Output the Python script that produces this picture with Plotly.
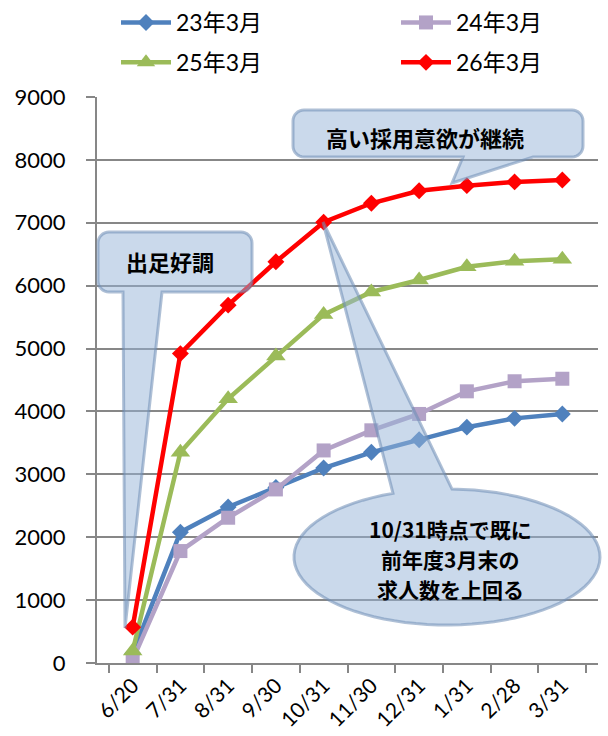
import math
import plotly.graph_objects as go

# ---------------- data ----------------
categories = ["6/20", "7/31", "8/31", "9/30", "10/31", "11/30", "12/31", "1/31", "2/28", "3/31"]
s23 = [150, 2080, 2480, 2790, 3100, 3350, 3550, 3750, 3890, 3960]
s24 = [50, 1780, 2310, 2760, 3380, 3700, 3960, 4320, 4480, 4520]
s25 = [190, 3350, 4200, 4880, 5540, 5900, 6090, 6300, 6390, 6420]
s26 = [570, 4920, 5690, 6380, 7010, 7310, 7510, 7590, 7650, 7680]
series_names = ["23年3月", "24年3月", "25年3月", "26年3月"]
y_ticks = [0, 1000, 2000, 3000, 4000, 5000, 6000, 7000, 8000, 9000]

# ---------------- layout geometry (pixels) ----------------
W, H = 608, 736
ML, MR, MT, MB = 97, 10, 97, 73
PW, PH = W - ML - MR, H - MT - MB


def px(x, y):
    """pixel (from top-left of figure) -> paper coords"""
    return (x - ML) / PW, (H - MB - y) / PH


def path_from_pts(pts):
    s = []
    for i, (x, y) in enumerate(pts):
        xp, yp = px(x, y)
        s.append(("M" if i == 0 else "L") + f"{xp:.5f},{yp:.5f}")
    return " ".join(s) + " Z"


def rounded_callout(x0, y0, x1, y1, r, tail):
    pts = []

    def arc(cx, cy, a0, a1, n=8):
        for k in range(n + 1):
            a = math.radians(a0 + (a1 - a0) * k / n)
            pts.append((cx + r * math.cos(a), cy - r * math.sin(a)))

    xa, xb, tx, ty = tail
    arc(x0 + r, y0 + r, 180, 90)
    arc(x1 - r, y0 + r, 90, 0)
    arc(x1 - r, y1 - r, 0, -90)
    right, left = max(xa, xb), min(xa, xb)
    pts.append((right, y1))
    pts.append((tx, ty))
    pts.append((left, y1))
    arc(x0 + r, y1 - r, -90, -180)
    return pts


def ellipse_callout(cx, cy, rx, ry, xl, xr, tx, ty, n=80):
    tl = math.degrees(math.acos((xl - cx) / rx))
    tr = math.degrees(math.acos((xr - cx) / rx)) + 360
    pts = [(tx, ty)]
    for k in range(n + 1):
        a = math.radians(tl + (tr - tl) * k / n)
        pts.append((cx + rx * math.cos(a), cy - ry * math.sin(a)))
    return pts


# ---------------- figure ----------------
colors = ["#4F81BD", "#B3A2C7", "#9BBB59", "#FF0000"]
symbols = ["diamond", "square", "triangle-up", "diamond"]
sizes = [13, 14, 17, 13]
legends = ["legend", "legend2", "legend", "legend2"]
data = [s23, s24, s25, s26]

fig = go.Figure()
for name, vals, c, sym, sz, lg in zip(series_names, data, colors, symbols, sizes, legends):
    fig.add_trace(go.Scatter(
        x=categories, y=vals, name=name, mode="lines+markers",
        line=dict(color=c, width=4.5),
        marker=dict(symbol=sym, size=sz, color=c, line=dict(width=0)),
        legend=lg, legendgroup=name,
    ))

FONT = "Lato, 'Noto Sans CJK JP', sans-serif"
CJK = "'Noto Sans CJK JP', sans-serif"
GRID = "#878787"

fill = "rgba(150,180,216,0.5)"
edge = "rgba(110,140,180,0.55)"

shapes = [
    dict(type="path", xref="paper", yref="paper", layer="above",
         path=path_from_pts(rounded_callout(98, 232, 252, 292, 11, (162, 123, 125, 628))),
         fillcolor=fill, line=dict(color=edge, width=3)),
    dict(type="path", xref="paper", yref="paper", layer="above",
         path=path_from_pts(rounded_callout(293, 110, 583, 157, 11, (533, 463, 452, 183))),
         fillcolor=fill, line=dict(color=edge, width=3)),
    dict(type="path", xref="paper", yref="paper", layer="above",
         path=path_from_pts(ellipse_callout(447, 557, 153, 68, 393, 452, 323, 222)),
         fillcolor=fill, line=dict(color=edge, width=3)),
]

annotations = []
for text, (x, y), fs in [
    ("<b>出足好調</b>", (170, 261), 22),
    ("<b>高い採用意欲が継続</b>", (425, 137), 22),
    ("<b>10/31時点で既に</b>", (450, 529), 21),
    ("<b>前年度3月末の</b>", (450, 559), 21),
    ("<b>求人数を上回る</b>", (450, 589), 21),
]:
    xp, yp = px(x, y)
    annotations.append(dict(x=xp, y=yp, xref="paper", yref="paper", text=text,
                            showarrow=False, xanchor="center", yanchor="middle",
                            font=dict(family=CJK, size=fs, color="black")))

fig.update_layout(
    width=W, height=H,
    margin=dict(l=ML, r=MR, t=MT, b=MB, pad=0, autoexpand=False),
    paper_bgcolor="white", plot_bgcolor="white",
    font=dict(family=FONT, size=22, color="black"),
    shapes=shapes, annotations=annotations,
    showlegend=True,
    legend=dict(x=px(116, 0)[0], y=px(0, 1)[1], xanchor="left", yanchor="top",
                orientation="v", font=dict(family=FONT, size=23), bgcolor="rgba(0,0,0,0)",
                tracegroupgap=7, traceorder="grouped", itemwidth=50),
    legend2=dict(x=px(396, 0)[0], y=px(0, 1)[1], xanchor="left", yanchor="top",
                 orientation="v", font=dict(family=FONT, size=23), bgcolor="rgba(0,0,0,0)",
                 tracegroupgap=7, traceorder="grouped", itemwidth=50),
    xaxis=dict(type="category", categoryorder="array", categoryarray=categories,
               tickangle=-45, ticks="outside", tickson="boundaries", ticklen=8,
               tickcolor=GRID, tickwidth=2, showline=True, linecolor=GRID, linewidth=2,
               showgrid=False, tickfont=dict(family=FONT, size=21), fixedrange=True,
               ticklabelstandoff=0, automargin=False),
    yaxis=dict(range=[0, 9000], tickvals=y_ticks, ticks="outside", ticklen=9,
               tickcolor=GRID, tickwidth=2, showline=True, linecolor=GRID, linewidth=2,
               showgrid=True, gridcolor=GRID, gridwidth=2, zeroline=False,
               tickfont=dict(family=FONT, size=22), ticklabelstandoff=16, fixedrange=True,
               automargin=False),
)

fig.write_html("out.html", config={"displayModeBar": False, "staticPlot": True},
               post_script="document.body.style.margin='0px';document.body.style.overflow='hidden';")
